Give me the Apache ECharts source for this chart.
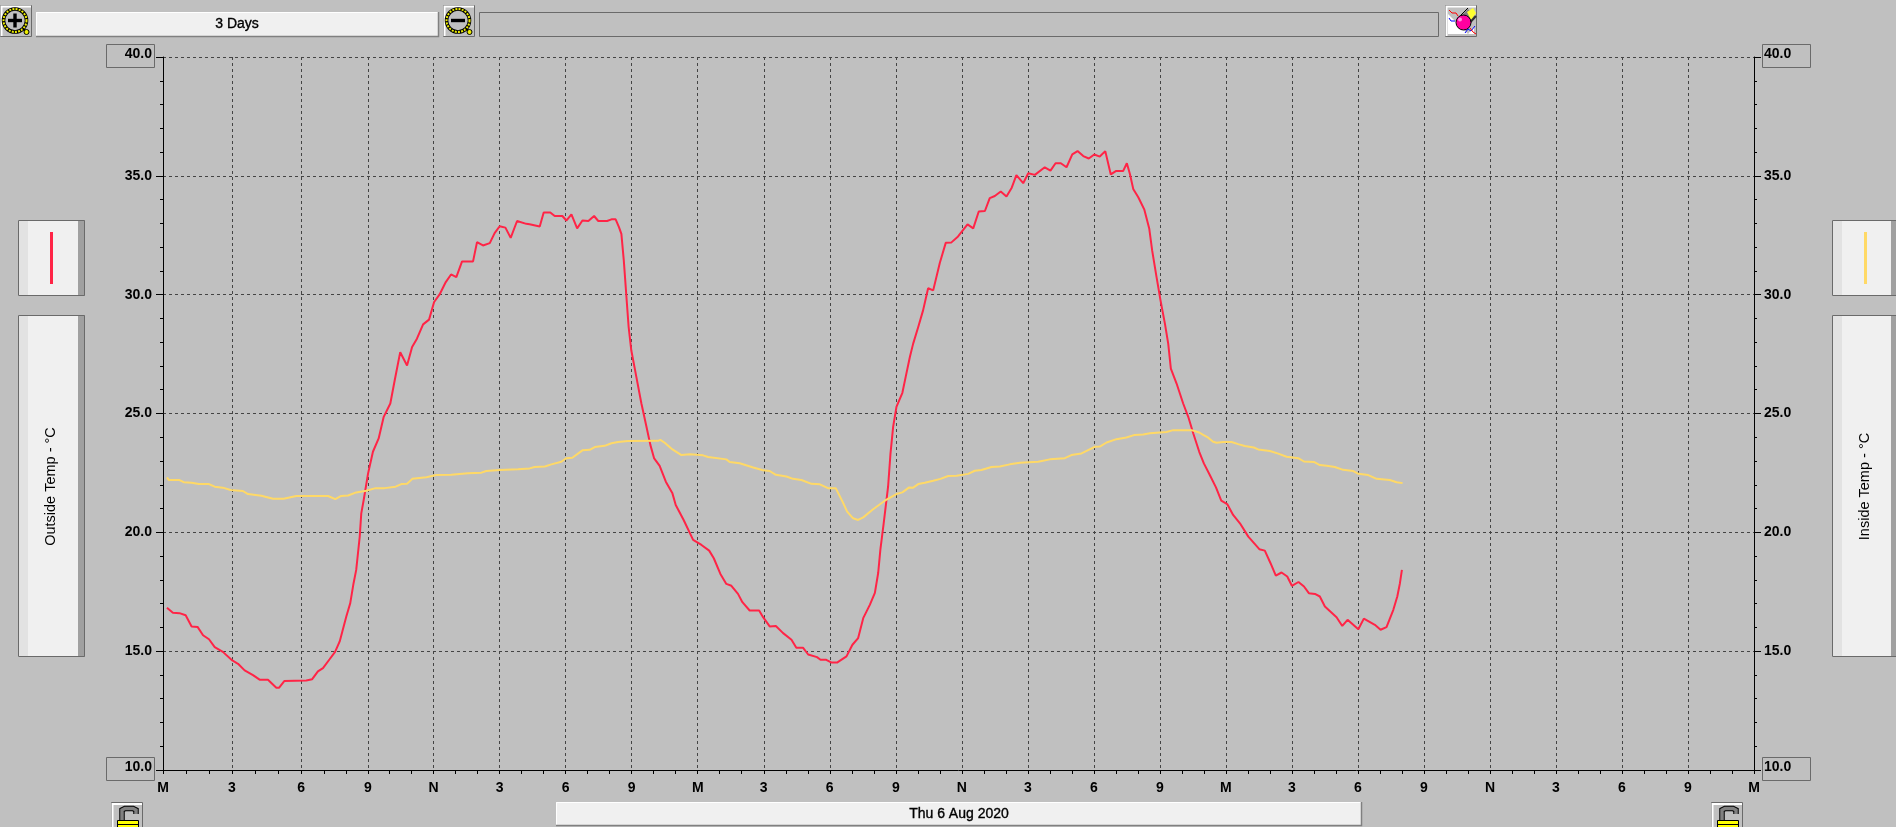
<!DOCTYPE html>
<html>
<head>
<meta charset="utf-8">
<title>Temperature</title>
<script src="https://cdn.jsdelivr.net/npm/echarts@6/dist/echarts.min.js"></script>
<style>
html,body{margin:0;padding:0;background:#c0c0c0;overflow:hidden}
#c{width:1896px;height:827px}
</style>
</head>
<body>
<div id="c"></div>
<script>
// Axis positions, in hours on the plot's time scale
const majorTicks = [-0.3,2.83,5.98,9.01,12,15,18,21,24,27,30,33,36,39,42,45,48,51,54,57,60,63,66,69,72];
const majorLabels = ['M','3','6','9','N','3','6','9','M','3','6','9','N','3','6','9','M','3','6','9','N','3','6','9','M'];
const hourTicks = [-0.3,0.75,1.8,2.83,3.9,4.93,5.98,7.02,8.02,9.01,10,11,12,13,14,15,16,17,18,19,20,21,22,23,24,25,26,27,28,29,30,31,32,33,34,35,36,37,38,39,40,41,42,43,44,45,46,47,48,49,50,51,52,53,54,55,56,57,58,59,60,61,62,63,64,65,66,67,68,69,70,71,72];
const tempLabelsMin = 10, tempLabelsMax = 40, tempLabelsStep = 5;

const outsideHours = [-0.12,-0.03,0.15,0.45,0.73,1.00,1.27,1.52,1.79,2.05,2.42,2.85,3.11,3.41,3.79,4.09,4.47,4.85,4.97,5.21,6.21,6.48,6.74,6.97,7.27,7.52,7.73,7.85,8.03,8.21,8.36,8.48,8.56,8.64,8.71,8.82,9.02,9.24,9.50,9.73,10.03,10.23,10.48,10.79,11.02,11.24,11.52,11.79,12.02,12.27,12.55,12.79,13.03,13.29,13.79,13.97,14.24,14.55,14.77,15.00,15.26,15.50,15.79,16.21,16.36,16.82,17.00,17.30,17.50,17.85,18.03,18.26,18.52,18.76,19.03,19.29,19.48,19.88,20.08,20.27,20.42,20.53,20.64,20.76,20.86,20.98,21.21,21.44,21.67,21.85,22.02,22.27,22.55,22.85,23.00,23.36,23.79,24.17,24.52,24.73,25.03,25.30,25.53,25.83,26.03,26.36,26.79,26.97,27.27,27.55,27.88,28.26,28.48,28.79,29.02,29.42,29.58,29.82,30.08,30.33,30.76,31.03,31.29,31.52,31.82,32.05,32.20,32.30,32.45,32.65,32.76,32.88,33.03,33.30,33.45,33.64,33.79,34.02,34.24,34.47,34.70,34.79,35.00,35.27,35.53,35.83,36.26,36.52,36.77,37.05,37.27,37.50,37.77,38.03,38.27,38.48,38.79,39.02,39.32,39.77,40.03,40.26,40.50,40.76,41.02,41.26,41.52,41.77,42.02,42.27,42.52,42.77,43.00,43.33,43.50,43.64,43.79,44.02,44.29,44.52,44.65,44.85,45.03,45.23,45.38,45.50,45.76,46.06,46.29,46.52,46.79,47.00,47.27,47.55,47.79,48.06,48.33,48.64,49.02,49.52,49.77,50.03,50.27,50.53,50.79,51.00,51.30,51.55,51.77,52.05,52.27,52.50,53.03,53.29,53.53,54.02,54.27,54.77,55.03,55.30,55.61,55.79,55.91,56.00];
const outsideTemp = [16.83,16.76,16.62,16.60,16.51,16.04,16.02,15.67,15.50,15.17,14.97,14.61,14.47,14.19,13.99,13.80,13.80,13.46,13.46,13.74,13.77,13.82,14.15,14.29,14.66,14.97,15.41,15.83,16.46,17.02,17.86,18.42,19.12,19.82,20.80,21.36,22.48,23.39,23.95,24.86,25.42,26.40,27.58,27.02,27.80,28.15,28.75,28.95,29.69,30.01,30.53,30.85,30.74,31.40,31.40,32.21,32.07,32.17,32.59,32.88,32.82,32.39,33.10,32.98,32.96,32.87,33.46,33.46,33.31,33.31,33.12,33.38,32.79,33.12,33.10,33.31,33.10,33.10,33.17,33.17,32.84,32.56,31.44,29.90,28.64,27.66,26.54,25.42,24.44,23.67,23.11,22.80,22.13,21.64,21.15,20.52,19.68,19.47,19.23,18.91,18.25,17.83,17.75,17.41,17.06,16.71,16.71,16.43,16.04,16.06,15.76,15.48,15.14,15.14,14.86,14.75,14.64,14.64,14.52,14.52,14.78,15.27,15.55,16.39,16.95,17.45,18.29,19.27,20.38,21.92,23.32,24.44,25.28,25.87,26.54,27.38,27.94,28.64,29.34,30.27,30.18,30.13,31.33,32.18,32.20,32.45,32.96,32.79,33.50,33.52,34.06,34.15,34.34,34.13,34.50,35.03,34.69,35.11,35.04,35.36,35.22,35.53,35.53,35.36,35.90,36.04,35.83,35.73,35.90,35.81,36.04,35.06,35.20,35.20,35.53,35.08,34.45,34.10,33.59,32.77,31.86,30.74,29.76,28.78,27.94,26.89,26.26,25.42,24.86,24.16,23.39,22.90,22.41,21.89,21.33,21.19,20.73,20.38,19.82,19.29,19.23,18.70,18.18,18.31,18.14,17.75,17.91,17.72,17.44,17.41,17.30,16.88,16.43,16.06,16.32,15.92,16.37,16.11,15.90,16.01,16.74,17.30,17.86,18.42];

const insideHours = [-0.12,-0.03,0.45,0.64,1.00,1.33,1.79,2.05,2.42,2.77,3.33,3.56,4.17,4.70,5.18,5.76,7.20,7.53,7.80,8.11,8.48,8.94,9.36,9.77,10.27,10.53,10.79,11.03,11.67,12.12,12.80,13.56,14.17,14.39,15.00,15.83,16.36,16.59,17.05,17.35,17.80,18.03,18.30,18.76,19.09,19.32,19.77,20.08,20.38,20.83,22.20,22.30,22.50,22.85,23.26,23.64,24.24,24.47,25.30,25.45,25.91,26.52,26.97,27.27,27.55,28.03,28.33,28.71,29.17,29.55,29.92,30.27,30.58,30.79,31.06,31.29,31.52,31.97,32.50,33.03,33.30,33.61,33.79,34.02,34.32,34.70,35.03,35.38,35.76,36.29,36.59,36.89,37.35,37.73,38.18,38.64,39.47,40.00,40.68,40.98,41.44,41.74,42.05,42.27,42.58,43.03,43.48,43.86,44.24,44.55,45.30,45.61,46.44,46.79,46.97,47.20,47.42,47.58,47.88,48.26,48.56,48.86,49.27,49.47,50.00,50.38,50.76,51.29,51.55,52.00,52.27,52.58,52.95,53.33,53.79,54.02,54.47,54.85,55.45,55.76,56.03];
const insideTemp = [22.31,22.20,22.20,22.11,22.09,22.03,22.03,21.92,21.88,21.78,21.74,21.61,21.54,21.41,21.41,21.53,21.53,21.40,21.53,21.55,21.68,21.75,21.86,21.86,21.92,22.03,22.04,22.25,22.32,22.41,22.42,22.49,22.51,22.58,22.62,22.65,22.69,22.75,22.77,22.86,22.97,23.12,23.14,23.45,23.47,23.59,23.64,23.75,23.80,23.84,23.85,23.89,23.77,23.49,23.25,23.29,23.24,23.17,23.07,22.96,22.91,22.73,22.61,22.58,22.42,22.35,22.25,22.20,22.04,22.02,21.86,21.86,21.29,20.87,20.59,20.52,20.63,20.97,21.33,21.61,21.68,21.89,21.88,22.03,22.09,22.17,22.25,22.37,22.38,22.46,22.59,22.62,22.75,22.77,22.86,22.93,22.97,23.07,23.12,23.25,23.32,23.46,23.60,23.61,23.78,23.92,23.99,24.10,24.12,24.17,24.22,24.30,24.30,24.20,24.10,23.98,23.81,23.77,23.80,23.80,23.71,23.63,23.57,23.49,23.42,23.31,23.18,23.12,22.98,22.96,22.83,22.80,22.75,22.63,22.58,22.46,22.41,22.25,22.20,22.11,22.07];

const rangeLabel = '3 Days';
const dateLabel = 'Thu 6 Aug 2020';
const outsideName = 'Outside Temp - °C';
const insideName = 'Inside Temp - °C';

const RED = '#ff2446', YEL = '#ffd966', BORDER = '#6a6a6a', BG = '#c0c0c0';

// --- window chrome (buttons, panels), not data ---
const g = [];
const rect = (x,y,w,h,fill,stroke,lw) => g.push({type:'rect',silent:true,z:0,shape:{x,y,width:w,height:h},style:{fill:fill||'none',stroke:stroke||'none',lineWidth:lw||1}});
const line = (pts,stroke,lw) => g.push({type:'polyline',silent:true,z:0,shape:{points:pts},style:{fill:'none',stroke,lineWidth:lw||1}});
const poly = (pts,fill) => g.push({type:'polygon',silent:true,z:0,shape:{points:pts},style:{fill}});
const circ = (cx,cy,r,fill,stroke,lw,dash) => g.push({type:'circle',silent:true,z:0,shape:{cx,cy,r},style:{fill:fill||'none',stroke:stroke||'none',lineWidth:lw||1,lineDash:dash||null}});
const text = (x,y,t,font,rot,faux) => g.push({type:'text',silent:true,z:0,x,y,rotation:rot||0,style:{x:0,y:0,text:t,font,fill:'#000',stroke:faux?'#000':null,lineWidth:faux||0,textAlign:'center',textVerticalAlign:'middle'}});

function button(x,y,w,h){
  rect(x+0.5,y+0.5,w-1,h-1,BG,BORDER,1);
  line([[x+1.5,y+h-1],[x+1.5,y+1.5],[x+w-1,y+1.5]],'#fff',2);
}
function bar(x,y,w,h){
  rect(x,y,w,h,'#f0f0f0');
  line([[x+0.5,y+h],[x+0.5,y+0.5],[x+w,y+0.5]],'#ffffff',1);
  line([[x,y+h-0.5],[x+w-0.5,y+h-0.5],[x+w-0.5,y]],'#808080',1.5);
}
function magnifier(x,plus){
  button(x,5,32,32);
  const cx=x+15, cy=20.5;
  circ(cx,cy,11.5,BG,'#000',3.6);
  circ(cx,cy,11.5,null,'#eeee00',2,[2,1.2]);
  rect(cx-7,cy-1.7,14,3.4,'#000');
  if(plus) rect(cx-1.7,cy-7,3.4,14,'#000');
  line([[cx+8,cy+8],[cx+11,cy+11]],'#000',2);
  circ(cx+11.5,cy+11.5,2.5,'#eeee00','#000',1);
}
function lock(x){
  rect(x+0.5,802.5,31,30,BG,BORDER,1);
  line([[x+1.5,833],[x+1.5,804],[x+31,804]],'#fff',2);
  const arm=[[x+11,821],[x+11,810],[x+14,808.5],[x+22,808.5],[x+25,810],[x+25,814]];
  line(arm,'#000',5.5);
  line(arm,'#808080',3.5);
  rect(x+6.5,820.5,21,8,'#ffff00','#000',1);
  line([[x+6,824.5],[x+28,824.5]],'#000',1);
}
function panel(x,y,w,h){
  rect(x,y,w,h,'#f0f0f0');
  rect(x,y,10,h,'#e2e2e2');
  rect(x+w-7,y,7,h,'#a0a0a0');
  rect(x+0.5,y+0.5,w-1,h-1,null,BORDER,1);
}
const SMALL_FONT = '14px "Liberation Sans", Arial, sans-serif';
// top row
magnifier(0,true);
bar(36,12,403,25);
text(237,24.5,rangeLabel,SMALL_FONT,0,0.35);
magnifier(443,false);
rect(479.5,12.5,959,24,BG,BORDER,1);
// eraser button
button(1445,5,32,32);
poly([[1448,34],[1448,14],[1468,34]],'#ffffff');
poly([[1468,34],[1474,34],[1474,27]],'#ffffff');
poly([[1457,20],[1468,9],[1475,16],[1464,28]],'#808080');
poly([[1467,12],[1473,8],[1476,13],[1471,20]],'#ffff30');
line([[1457,19],[1468,8]],'#000',1);
line([[1464,29],[1476,16]],'#303030',2);
circ(1463.5,22.5,7.5,'#ff00a0','#000',1);
circ(1460,19.5,2,'#ff90e0');
line([[1449,10],[1452,13],[1456,13],[1458,16]],'#ff0000',1);
line([[1449,18],[1451,21],[1455,21]],'#0000ff',1);
line([[1465,33],[1468,29],[1471,31],[1475,26]],'#0000ff',1);
line([[1470,28],[1473,32],[1476,34]],'#ff0000',1);
// axis end boxes
rect(106.5,44.5,48,23,null,BORDER,1);
rect(106.5,757.5,48,23,null,BORDER,1);
rect(1762.5,44.5,48,23,null,BORDER,1);
rect(1762.5,757.5,48,23,null,BORDER,1);
// side panels
panel(18,220,67,76);
panel(18,315,67,342);
line([[51.5,232],[51.5,284]],RED,3);
text(51,486.5,outsideName,'14.5px "Liberation Sans", Arial, sans-serif',Math.PI/2);
panel(1832,220,66,76);
panel(1832,315,66,342);
line([[1865.5,232],[1865.5,284]],YEL,3);
text(1865,486.5,insideName,'14.5px "Liberation Sans", Arial, sans-serif',Math.PI/2);
// bottom row
lock(111);
bar(556,802,806,24);
text(959,814,dateLabel,SMALL_FONT,0,0.35);
lock(1711);

const zip = (xs,ys) => xs.map((x,i)=>[x,ys[i]]);
const labelFont = {color:'#000',fontFamily:'"Liberation Sans"',fontWeight:'bold',fontSize:14};
const yAxisBase = {
  type:'value',min:tempLabelsMin,max:tempLabelsMax,interval:tempLabelsStep,
  axisLine:{show:true,onZero:false,lineStyle:{color:'#000',width:1}},
  axisTick:{show:true,length:7,lineStyle:{color:'#000'}},
  minorTick:{show:true,splitNumber:5,length:3,lineStyle:{color:'#000'}},
  axisLabel:Object.assign({},labelFont,{
    formatter:v=>(v===tempLabelsMin||v===tempLabelsMax)?`{end|${v.toFixed(1)}}`:v.toFixed(1),
    rich:{end:Object.assign({},labelFont,{padding:[0,0,6,0]})}
  })
};
const gridStyle = {color:'#444',width:1,type:[3,3]};
const chart = echarts.init(document.getElementById('c'),null,{renderer:'canvas'});
chart.setOption({
  animation:false,
  backgroundColor:BG,
  graphic:{elements:g},
  grid:{left:163,top:57,width:1591,height:713,containLabel:false},
  xAxis:[
    {type:'value',min:majorTicks[0],max:72,position:'bottom',
     axisLine:{show:true,onZero:false,lineStyle:{color:'#000',width:1}},
     axisTick:{show:true,length:4,customValues:hourTicks,lineStyle:{color:'#000'}},
     axisLabel:{show:false},splitLine:{show:false}},
    {type:'value',min:majorTicks[0],max:72,position:'bottom',
     axisLine:{show:false,onZero:false},
     axisTick:{show:false,customValues:majorTicks},
     axisLabel:Object.assign({},labelFont,{show:true,customValues:majorTicks,margin:11,
       formatter:v=>majorLabels[majorTicks.indexOf(v)]}),
     splitLine:{show:true,lineStyle:gridStyle}}
  ],
  yAxis:[
    Object.assign({},yAxisBase,{position:'left',axisLabel:Object.assign({},yAxisBase.axisLabel,{margin:11,align:'right'}),
      splitLine:{show:true,lineStyle:gridStyle}}),
    Object.assign({},yAxisBase,{position:'right',axisLabel:Object.assign({},yAxisBase.axisLabel,{margin:10,align:'left'}),
      splitLine:{show:false}})
  ],
  series:[
    {name:outsideName,type:'line',xAxisIndex:0,yAxisIndex:0,data:zip(outsideHours,outsideTemp),showSymbol:false,symbol:'none',smooth:false,z:3,
     lineStyle:{color:RED,width:2}},
    {name:insideName,type:'line',xAxisIndex:0,yAxisIndex:1,data:zip(insideHours,insideTemp),showSymbol:false,symbol:'none',smooth:false,z:4,
     lineStyle:{color:YEL,width:2}}
  ]
});
</script>
</body>
</html>
